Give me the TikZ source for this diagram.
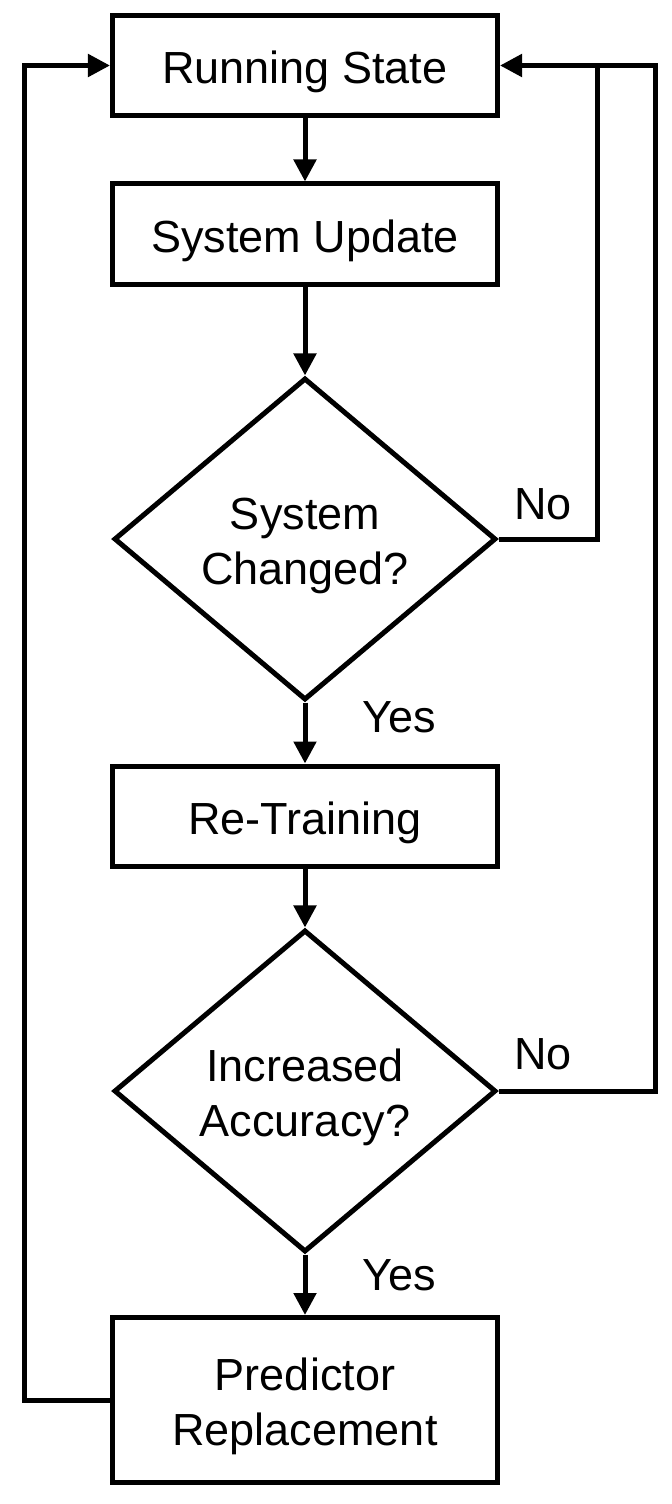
\documentclass[tikz,border=0pt]{standalone}
\usepackage{fontspec}
\setmainfont{Liberation Sans}
\usetikzlibrary{shapes,arrows,positioning,calc,arrows.meta}

\begin{document}
\begin{tikzpicture}[x=1bp, y=-1bp,
    every node/.style={font=\fontsize{45bp}{55bp}\selectfont},
    stepbox/.style={draw, line width=5bp, minimum width=385bp, minimum height=100bp, inner sep=0pt, align=center, text height=36bp, text depth=0bp},
    twoline/.style={text height=91bp, text depth=0bp},
    decision/.style={draw, diamond, line width=5bp, minimum width=382bp, minimum height=322bp, inner sep=0pt, align=center, twoline},
    flow/.style={line width=5bp, -{Triangle[length=22bp,width=22bp]}},
    lbl/.style={anchor=base west, inner sep=0pt}]
    \useasboundingbox (0,0) rectangle (672,1504);

    % Main column
    \node[stepbox] (run) at (305,65.5) {Running State};
    \node[stepbox] (upd) at (305,234) {System Update};
    \node[decision] (chg) at (305,539) {System\\Changed?};
    \node[stepbox] (train) at (305,816) {Re-Training};
    \node[decision] (acc) at (305,1091) {Increased\\Accuracy?};
    \node[stepbox, minimum height=165bp, twoline] (repl) at (305,1400) {Predictor\\Replacement};

    % Downward arrows
    \draw[flow] (run) -- (upd);
    \draw[flow] (upd) -- (chg);
    \draw[flow] (chg) -- (train);
    \draw[flow] (train) -- (acc);
    \draw[flow] (acc) -- (repl);

    % Branch labels
    \node[lbl] (yes1) at (362,732) {Yes};
    \node[lbl] (yes2) at (362,1290) {Yes};
    \node[lbl] (no1) at (514,519) {No};
    \node[lbl] (no2) at (514,1069) {No};

    % Feedback loops
    \coordinate (join) at (597.5,65.5);
    \draw[line width=5bp] (chg.east) -| (join);
    \draw[flow] (acc.east) -- (655,1091) |- (run.east);
    \draw[flow] (repl.west) -- (24,1400) |- (run.west);
\end{tikzpicture}
\end{document}
